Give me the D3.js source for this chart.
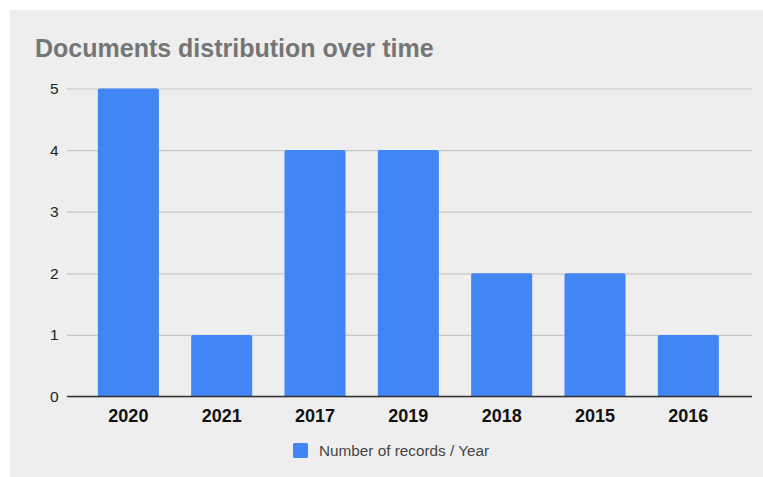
<!DOCTYPE html>
<html>
<head>
<meta charset="utf-8">
<script src="https://cdn.jsdelivr.net/npm/d3@7"></script>
<style>
  html, body { margin: 0; padding: 0; background: #ffffff; }
  svg { display: block; font-family: "Liberation Sans", Arial, sans-serif; }
</style>
</head>
<body>
<svg id="chart" width="763" height="477"></svg>
<script>
// Records per year, in the order they appear on the axis
const years = ["2020", "2021", "2017", "2019", "2018", "2015", "2016"];
const records = [5, 1, 4, 4, 2, 2, 1];
const yTicks = [0, 1, 2, 3, 4, 5];
const chartTitle = "Documents distribution over time";
const seriesName = "Number of records / Year";

const svg = d3.select("#chart");
const W = 763, H = 477;

// card background
svg.append("rect").attr("x", 10).attr("y", 10).attr("width", W - 10).attr("height", H - 10)
  .attr("fill", "#eeeeee");

const plot = { left: 67, right: 752, top: 88.5, bottom: 396.5 };

const x = d3.scaleBand().domain(years).range([81.7, 735]).paddingInner(0.346).paddingOuter(0.173);
const y = d3.scaleLinear().domain([0, 5]).range([plot.bottom, plot.top]);

// title
svg.append("text").attr("x", 35).attr("y", 57)
  .attr("font-size", 25).attr("font-weight", "bold").attr("fill", "#757575")
  .text(chartTitle);

// gridlines + y labels
const yAxis = d3.axisLeft(y).tickValues(yTicks).tickSize(-(plot.right - plot.left)).tickPadding(8.5)
  .tickFormat(d3.format("d"));
const gy = svg.append("g").attr("transform", `translate(${plot.left},0)`).call(yAxis);
gy.select(".domain").remove();
gy.selectAll(".tick line").attr("stroke", "#c6c6c6").attr("stroke-width", 1.2);
gy.selectAll(".tick text").attr("font-size", 15.5).attr("fill", "#222")
  .attr("font-family", "Liberation Sans, Arial, sans-serif");

// bars with slightly rounded tops
const r = 2;
svg.append("g").selectAll("path").data(years).join("path")
  .attr("fill", "#4285f4")
  .attr("d", (d, i) => {
    const x0 = x(d), w = x.bandwidth(), y0 = y(records[i]), y1 = y(0);
    return `M${x0},${y1}V${y0 + r}Q${x0},${y0} ${x0 + r},${y0}H${x0 + w - r}Q${x0 + w},${y0} ${x0 + w},${y0 + r}V${y1}Z`;
  });

// baseline and category labels
const xAxis = d3.axisBottom(x).tickSize(0).tickPadding(13);
const gx = svg.append("g").attr("transform", `translate(0,${plot.bottom})`).call(xAxis);
gx.select(".domain").remove();
svg.append("line").attr("x1", plot.left).attr("x2", plot.right)
  .attr("y1", plot.bottom).attr("y2", plot.bottom).attr("stroke", "#333").attr("stroke-width", 1.3);
gx.selectAll(".tick text").attr("font-size", 18).attr("font-weight", "bold").attr("fill", "#111")
  .attr("font-family", "Liberation Sans, Arial, sans-serif");

// legend
const lg = svg.append("g").attr("transform", "translate(293,443)");
lg.append("rect").attr("width", 15).attr("height", 15).attr("rx", 1.5).attr("fill", "#4285f4");
lg.append("text").attr("x", 26).attr("y", 12.7).attr("font-size", 15.3).attr("fill", "#444")
  .text(seriesName);
</script>
</body>
</html>
